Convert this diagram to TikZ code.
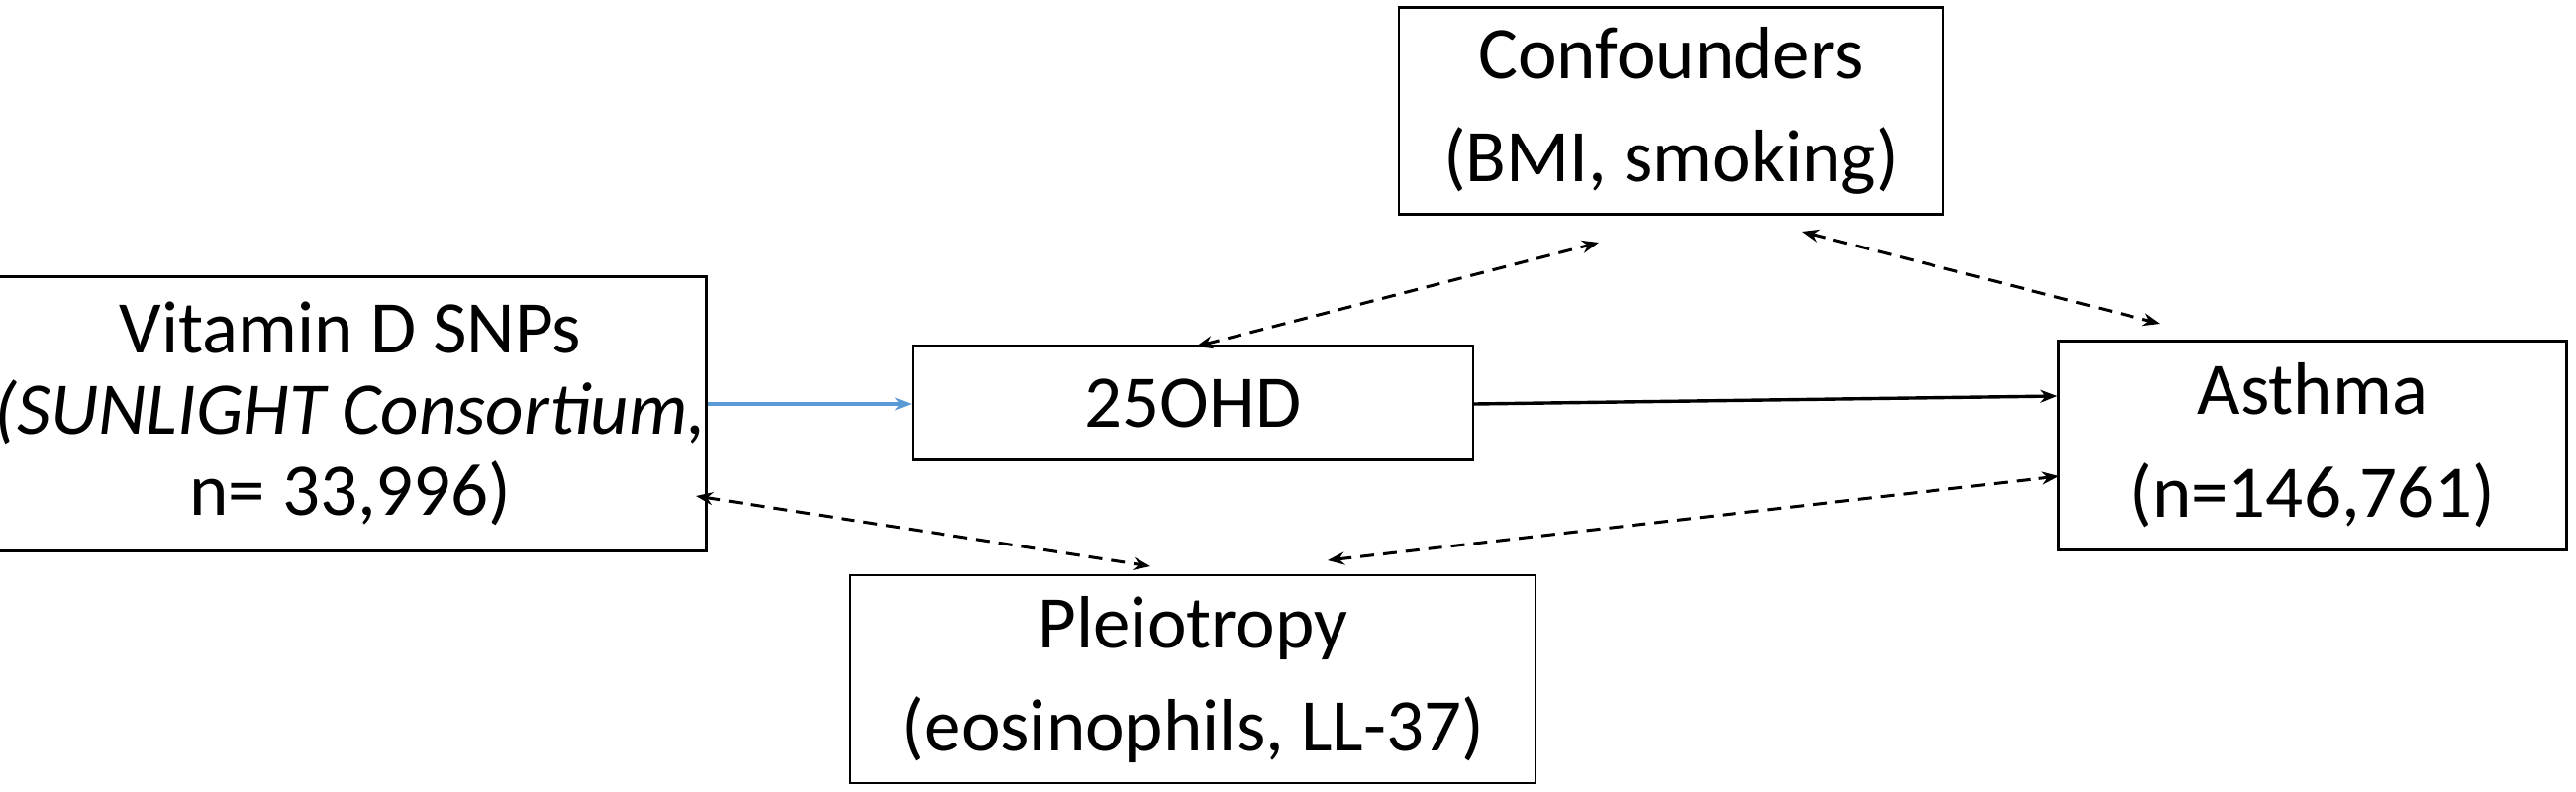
\documentclass[tikz,border=0pt]{standalone}
\usepackage{fontspec}
\setmainfont{Carlito}
\usetikzlibrary{arrows.meta}
\begin{document}
\begin{tikzpicture}[x=1pt,y=-1pt,
  box/.style={draw,line width=2.4pt,inner sep=0pt,align=center,font=\fontsize{75}{104}\selectfont},
  dsh/.style={line width=3pt,dash pattern=on 14pt off 9pt,{Stealth[length=17pt,width=13pt]}-{Stealth[length=17pt,width=13pt]}},
  sol/.style={line width=3.4pt,-{Stealth[length=17pt,width=13pt]}}]
\useasboundingbox (0,0) rectangle (2602,800);
\node[box,minimum width=692,minimum height=277,font=\fontsize{75}{82}\selectfont] (vd) at (354,418) {Vitamin D SNPs\\\textit{(SUNLIGHT Consortium,}\\n= 33,996)};
\node[box,minimum width=566,minimum height=115] (oh) at (1205,407) {25OHD};
\node[box,minimum width=550,minimum height=209] (cf) at (1688,112) {Confounders\\(BMI, smoking)};
\node[box,minimum width=513,minimum height=211] (as) at (2336,450) {Asthma\\(n=146,761)};
\node[box,minimum width=692,minimum height=210] (pl) at (1205,686) {Pleiotropy\\(eosinophils, LL-37)};
\coordinate (a1) at (1208,350); \coordinate (a2) at (1615,245);
\coordinate (b1) at (1820,234); \coordinate (b2) at (2182,327);
\coordinate (c1) at (703,501); \coordinate (c2) at (1162,572);
\coordinate (d1) at (1341,566); \coordinate (d2) at (2080,481);
\draw[sol,color={rgb,255:red,91;green,155;blue,213}] (vd.east |- 0,408) -- (oh.west |- 0,408);
\draw[sol] (oh.east |- 0,408) -- (as.west |- 0,400);
\draw[dsh] (a1) -- (a2);
\draw[dsh] (b1) -- (b2);
\draw[dsh] (c1) -- (c2);
\draw[dsh] (d1) -- (d2);
\end{tikzpicture}
\end{document}
